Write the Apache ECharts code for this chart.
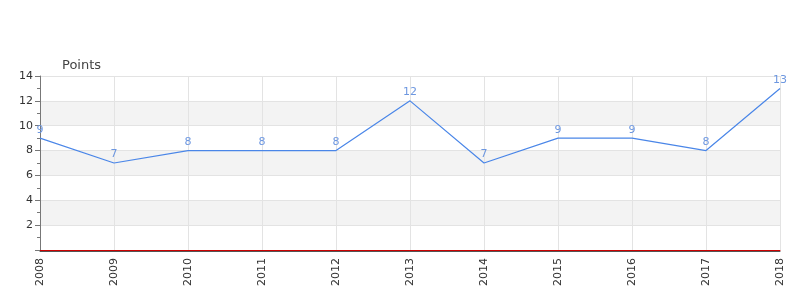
<!DOCTYPE html>
<html><head><meta charset="utf-8">
<script src="https://cdn.jsdelivr.net/npm/echarts@6/dist/echarts.min.js"></script>
<style>html,body{margin:0;padding:0;background:#fff}#c{width:800px;height:300px}</style>
</head><body><div id="c"></div>
<script>
var years = ['2008','2009','2010','2011','2012','2013','2014','2015','2016','2017','2018'];
var points = [9,7,8,8,8,12,7,9,9,8,13];
var yTicks = [0,2,4,6,8,10,12,14];
var chart = echarts.init(document.getElementById('c'), null, {renderer:'canvas'});
chart.setOption({
  animation:false,
  grid:{left:40,right:20,top:76,bottom:50},
  xAxis:[{
    type:'category', data:years, boundaryGap:false,
    axisLine:{lineStyle:{color:'#cc0000',width:1}},
    axisTick:{show:false},
    axisLabel:{rotate:90,color:'#333',fontSize:11,fontFamily:'DejaVu Sans',margin:8},
    splitLine:{show:true,interval:function(i){return i>0;},lineStyle:{color:'#e3e3e3'}}
  },{
    type:'category', data:years, boundaryGap:false, position:'bottom', offset:1,
    axisLine:{lineStyle:{color:'#555',width:1}},
    axisTick:{show:false}, axisLabel:{show:false}, splitLine:{show:false}
  }],
  yAxis:{
    type:'value', min:yTicks[0], max:yTicks[yTicks.length-1], interval:2,
    name:'Points', nameLocation:'end', nameGap:4,
    nameTextStyle:{color:'#444',fontSize:13,fontFamily:'DejaVu Sans',align:'left',padding:[0,0,0,22]},
    axisLine:{show:true,onZero:false,lineStyle:{color:'#777'}},
    axisTick:{show:true,length:5,lineStyle:{color:'#777'}},
    minorTick:{show:true,splitNumber:2,length:3,lineStyle:{color:'#777'}},
    axisLabel:{color:'#333',fontSize:11,fontFamily:'DejaVu Sans',margin:7,
      formatter:function(v){return v===0?'':String(v);}},
    splitLine:{show:true,lineStyle:{color:'#e3e3e3'}},
    splitArea:{show:true,areaStyle:{color:['#ffffff','#f3f3f3']}}
  },
  series:[{
    type:'line', data:points, xAxisIndex:0, symbol:'circle', symbolSize:2, showSymbol:true,
    itemStyle:{color:'rgba(0,0,0,0)',borderWidth:0},
    lineStyle:{color:'#4a86e8',width:1.2},
    label:{show:true,position:'top',color:'#6d97e0',fontSize:11,fontFamily:'DejaVu Sans',distance:2}
  }]
});
</script></body></html>
